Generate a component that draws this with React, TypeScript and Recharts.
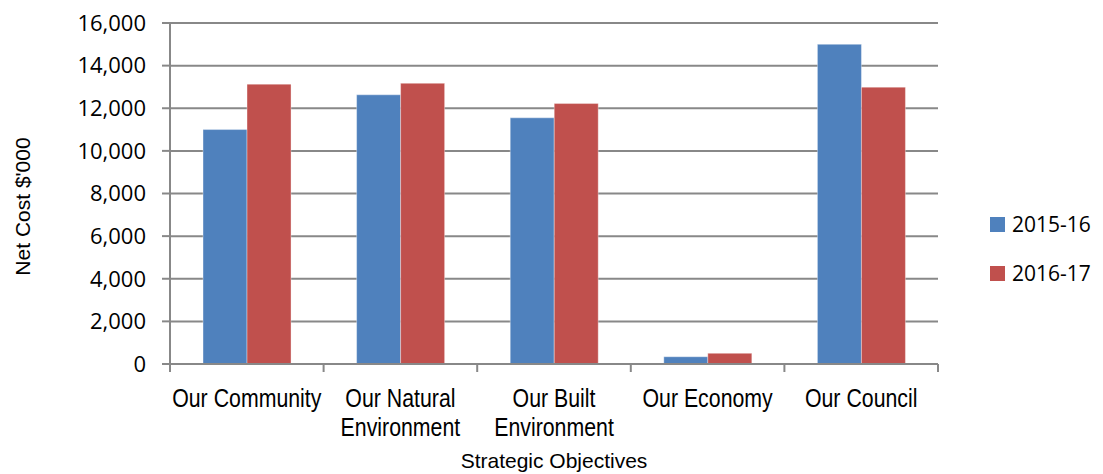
import React from 'react';
import { BarChart, Bar, XAxis, YAxis, CartesianGrid, Legend } from 'recharts';

const CATEGORIES = [
  'Our Community',
  'Our Natural Environment',
  'Our Built Environment',
  'Our Economy',
  'Our Council',
];
const NET_COST_2015_16 = [11000, 12630, 11550, 340, 15000];
const NET_COST_2016_17 = [13130, 13170, 12220, 500, 12990];
const Y_TICKS = [0, 2000, 4000, 6000, 8000, 10000, 12000, 14000, 16000];

const SERIES = [
  { key: 'fy2015', name: '2015-16', color: '#4F81BD' },
  { key: 'fy2016', name: '2016-17', color: '#C0504D' },
];

const data = CATEGORIES.map((name, i) => ({
  name,
  fy2015: NET_COST_2015_16[i],
  fy2016: NET_COST_2016_17[i],
}));

const AXIS_GREY = '#888888';
const NUMBER_FONT = '"Open Sans", "Noto Sans", sans-serif';
const TITLE_FONT = '"Liberation Sans", Arial, sans-serif';
// no narrow face installed, so category labels are squeezed horizontally
const NARROW_SCALE = 0.82;

const formatThousands = (v: number) => v.toLocaleString('en-US');

// long names break after the second word
function splitLabel(label: string) {
  const words = label.split(' ');
  if (words.length <= 2) return [label];
  return [words.slice(0, 2).join(' '), words.slice(2).join(' ')];
}

// category label plus the boundary tick marks between bands
function CategoryTick(props: any) {
  const { x, y, payload, index, visibleTicksCount, width } = props;
  const half = payload.offset ?? width / visibleTicksCount / 2;
  const lines = splitLabel(String(payload.value));
  const isLast = index === visibleTicksCount - 1;
  return (
    <g>
      <line x1={x - half} x2={x - half} y1={y - 8} y2={y} stroke={AXIS_GREY} strokeWidth={2} />
      {isLast && (
        <line x1={x + half} x2={x + half} y1={y - 8} y2={y} stroke={AXIS_GREY} strokeWidth={2} />
      )}
      <g transform={`translate(${x}, 0) scale(${NARROW_SCALE}, 1)`}>
        <text textAnchor="middle" fontFamily={TITLE_FONT} fontSize={26} fill="#000">
          {lines.map((line, i) => (
            <tspan key={i} x={0} y={y + 35 + i * 29.5}>
              {line}
            </tspan>
          ))}
        </text>
      </g>
    </g>
  );
}

function YTitle(props: any) {
  const { viewBox } = props;
  const cx = viewBox.x + 22;
  const cy = viewBox.y + viewBox.height / 2 + 13;
  return (
    <text
      x={cx}
      y={cy}
      transform={`rotate(-90, ${cx}, ${cy})`}
      textAnchor="middle"
      dominantBaseline="central"
      fontFamily={TITLE_FONT}
      fontSize={21}
      fill="#000"
    >
      Net Cost $'000
    </text>
  );
}

function LegendBox() {
  return (
    <svg width={110} height={90} style={{ overflow: 'visible' }}>
      {SERIES.map((s, i) => (
        <g key={s.key}>
          <rect x={0} y={7 + i * 49} width={15} height={15} fill={s.color} />
          <text x={22} y={22 + i * 49} fontFamily={NUMBER_FONT} fontSize={21} fill="#000">
            {s.name}
          </text>
        </g>
      ))}
    </svg>
  );
}

export default function App() {
  return (
    <div style={{ position: 'absolute', top: 0, left: 0, width: 1103, height: 474, background: '#fff' }}>
      <BarChart
        width={1103}
        height={474}
        data={data}
        margin={{ top: 23, right: 165, bottom: 0, left: 0 }}
        barCategoryGap="21.5%"
        barGap={0}
      >
        <CartesianGrid vertical={false} stroke={AXIS_GREY} strokeWidth={2} />
        <XAxis
          dataKey="name"
          height={110}
          interval={0}
          axisLine={{ stroke: AXIS_GREY, strokeWidth: 2 }}
          tickLine={false}
          tickSize={8}
          tickMargin={0}
          tick={<CategoryTick />}
          label={{
            value: 'Strategic Objectives',
            position: 'insideBottom',
            offset: 6,
            fontFamily: TITLE_FONT,
            fontSize: 21,
            fill: '#000',
          }}
        />
        <YAxis
          width={170}
          domain={[0, 16000]}
          ticks={Y_TICKS}
          interval={0}
          tickFormatter={formatThousands}
          axisLine={{ stroke: AXIS_GREY, strokeWidth: 2 }}
          tickLine={{ stroke: AXIS_GREY, strokeWidth: 2 }}
          tickSize={8}
          tickMargin={16}
          tick={{ fontFamily: NUMBER_FONT, fontSize: 22, fill: '#000' }}
          label={<YTitle />}
        />
        <Legend
          layout="vertical"
          align="center"
          verticalAlign="middle"
          wrapperStyle={{ left: 990, top: 210, width: 110 }}
          content={<LegendBox />}
        />
        {SERIES.map((s) => (
          <Bar
            key={s.key}
            dataKey={s.key}
            name={s.name}
            fill={s.color}
            stroke="rgba(255,255,255,0.35)"
            strokeWidth={1}
            isAnimationActive={false}
          />
        ))}
      </BarChart>
    </div>
  );
}
